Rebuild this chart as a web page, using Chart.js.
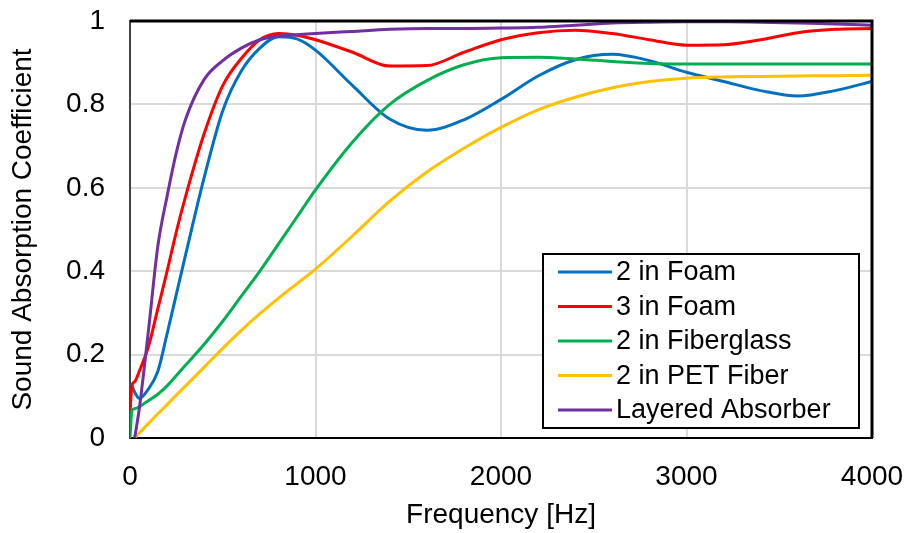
<!DOCTYPE html>
<html>
<head>
<meta charset="utf-8">
<title>Sound Absorption Coefficient</title>
<script src="https://cdn.jsdelivr.net/npm/chart.js@4.4.1/dist/chart.umd.min.js"></script>
<style>
  html, body { margin: 0; padding: 0; background: #fff; }
  #wrap { width: 908px; height: 533px; position: relative; }
</style>
</head>
<body>
<div id="wrap"><canvas id="absorption"></canvas></div>
<script>
// frequencies (Hz) the curves were read at
const freqHz = [0, 10, 25, 50, 100, 150, 200, 250, 300, 400, 500, 600, 700, 800, 900, 1000,
  1200, 1400, 1600, 1800, 2000, 2200, 2400, 2600, 2800, 3000, 3200, 3400, 3600, 3800, 4000];

const foam2in = [0.13, 0.125, 0.11, 0.095, 0.118, 0.16, 0.25, 0.345, 0.44, 0.625, 0.785, 0.88, 0.935, 0.962, 0.957, 0.93,
  0.845, 0.765, 0.738, 0.763, 0.812, 0.868, 0.907, 0.92, 0.905, 0.877, 0.855, 0.833, 0.82, 0.833, 0.855];

const foam3in = [0.06, 0.125, 0.135, 0.16, 0.22, 0.31, 0.4, 0.495, 0.58, 0.73, 0.845, 0.91, 0.955, 0.97, 0.966, 0.955,
  0.925, 0.892, 0.893, 0.925, 0.955, 0.972, 0.978, 0.97, 0.955, 0.942, 0.943, 0.955, 0.972, 0.98, 0.982];

const fiberglass2in = [0.0, 0.065, 0.07, 0.075, 0.09, 0.105, 0.125, 0.15, 0.175, 0.225, 0.28, 0.34, 0.4, 0.465, 0.53, 0.595,
  0.71, 0.8, 0.857, 0.895, 0.912, 0.913, 0.909, 0.903, 0.898, 0.897, 0.897, 0.897, 0.897, 0.897, 0.897];

const pet2in = [null, null, 0.0, 0.012, 0.035, 0.058, 0.08, 0.103, 0.125, 0.17, 0.215, 0.258, 0.298, 0.335, 0.37, 0.405,
  0.485, 0.568, 0.638, 0.695, 0.745, 0.787, 0.817, 0.84, 0.855, 0.863, 0.866, 0.867, 0.868, 0.869, 0.87];

const layered = [null, null, 0.0, 0.07, 0.26, 0.46, 0.58, 0.685, 0.765, 0.86, 0.905, 0.935, 0.955, 0.964, 0.967, 0.97,
  0.975, 0.98, 0.982, 0.982, 0.983, 0.985, 0.99, 0.995, 0.997, 0.998, 0.998, 0.997, 0.995, 0.993, 0.99];

const seriesNames = ["2 in Foam", "3 in Foam", "2 in Fiberglass", "2 in PET Fiber", "Layered Absorber"];
const seriesColors = ["#0070C0", "#FF0000", "#00B050", "#FFC000", "#7030A0"];
const seriesValues = [foam2in, foam3in, fiberglass2in, pet2in, layered];

const FONT = "Arial, 'Liberation Sans', sans-serif";

function toPoints(vals){
  return freqHz.map((f, i) => ({ x: f, y: vals[i] }));
}

// top and right frame lines
const frame = {
  id: "frame",
  afterDatasetsDraw(chart){
    const { ctx, chartArea: a } = chart;
    ctx.save();
    ctx.strokeStyle = "#000";
    ctx.lineWidth = 3;
    ctx.beginPath();
    ctx.moveTo(a.left, a.top);
    ctx.lineTo(a.right, a.top);
    ctx.lineTo(a.right, a.bottom);
    ctx.stroke();
    ctx.restore();
  }
};

// boxed legend inside the plot, lower right
const boxLegend = {
  id: "boxLegend",
  afterDraw(chart){
    const { ctx, chartArea: a } = chart;
    const x0 = a.right - 329, y0 = a.top + 233, w = 316, h = 174;
    ctx.save();
    ctx.fillStyle = "#fff";
    ctx.fillRect(x0, y0, w, h);
    ctx.strokeStyle = "#000";
    ctx.lineWidth = 2;
    ctx.strokeRect(x0, y0, w, h);
    ctx.font = "27px " + FONT;
    ctx.textBaseline = "middle";
    ctx.fillStyle = "#000";
    chart.data.datasets.forEach((ds, i) => {
      const y = y0 + 18 + i * 34.5;
      ctx.strokeStyle = ds.borderColor;
      ctx.lineWidth = 3;
      ctx.beginPath();
      ctx.moveTo(x0 + 15, y);
      ctx.lineTo(x0 + 69, y);
      ctx.stroke();
      ctx.fillText(ds.label, x0 + 73, y + 1);
    });
    ctx.restore();
  }
};

new Chart(document.getElementById("absorption"), {
  type: "line",
  data: {
    datasets: seriesNames.map((name, i) => ({
      label: name,
      data: toPoints(seriesValues[i]),
      borderColor: seriesColors[i],
      backgroundColor: seriesColors[i],
      borderWidth: 3,
      pointRadius: 0,
      cubicInterpolationMode: "monotone",
      order: 5 - i
    }))
  },
  options: {
    responsive: true,
    maintainAspectRatio: false,
    animation: false,
    layout: { padding: { top: 21, right: 36, left: 0, bottom: 0 } },
    plugins: { legend: { display: false }, tooltip: { enabled: false } },
    scales: {
      x: {
        type: "linear",
        min: 0, max: 4000,
        afterFit(s){ s.height = 95; s.paddingLeft = 0; s.paddingRight = 0; },
        ticks: {
          stepSize: 1000,
          color: "#000",
          padding: 22,
          font: { size: 28, family: FONT },
          callback: v => String(v)
        },
        grid: { color: "#d9d9d9", lineWidth: 2, drawTicks: false },
        border: { display: true, color: "#000", width: 2 },
        title: {
          display: true,
          text: "Frequency [Hz]",
          color: "#000",
          font: { size: 28, family: FONT },
          padding: { top: 0, bottom: 1 }
        }
      },
      y: {
        min: 0, max: 1,
        afterFit(s){ s.width = 130; s.paddingTop = 0; s.paddingBottom = 0; },
        ticks: {
          stepSize: 0.2,
          color: "#000",
          padding: 25,
          font: { size: 28, family: FONT },
          callback: v => String(Math.round(v * 10) / 10)
        },
        grid: { color: "#d9d9d9", lineWidth: 2, drawTicks: false },
        border: { display: true, color: "#444", width: 2 },
        title: {
          display: true,
          text: "Sound Absorption Coefficient",
          color: "#000",
          font: { size: 28, family: FONT },
          padding: { top: 6, bottom: 0 }
        }
      }
    }
  },
  plugins: [frame, boxLegend]
});
</script>
</body>
</html>
